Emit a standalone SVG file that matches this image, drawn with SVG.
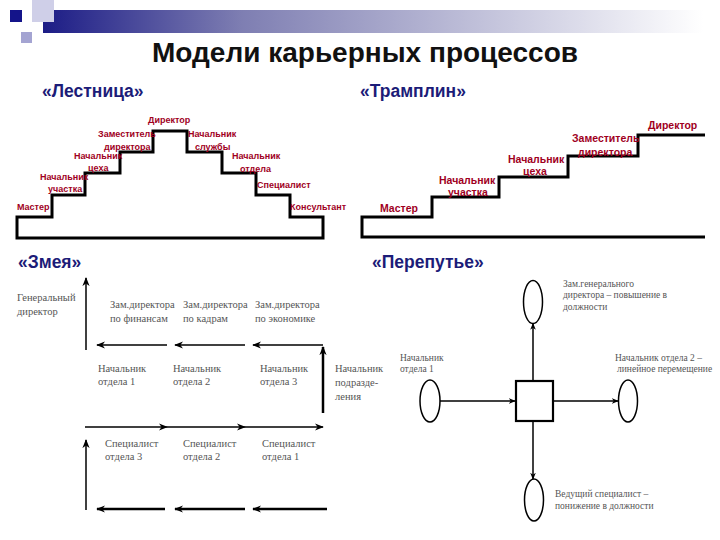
<svg xmlns="http://www.w3.org/2000/svg" width="720" height="540" viewBox="0 0 720 540">
<defs>
<linearGradient id="band" x1="0" y1="0" x2="1" y2="0">
<stop offset="0" stop-color="#1c1c86"/>
<stop offset="0.3" stop-color="#7e7eb2"/>
<stop offset="1" stop-color="#ffffff"/>
</linearGradient>
<marker id="ah" viewBox="0 0 10 10" refX="9" refY="5" markerWidth="9" markerHeight="9" orient="auto" markerUnits="userSpaceOnUse">
<path d="M0,1 L10,5 L0,9 L3,5 z" fill="#000"/>
</marker>
<marker id="ahs" viewBox="0 0 10 10" refX="9" refY="5" markerWidth="7" markerHeight="7" orient="auto" markerUnits="userSpaceOnUse">
<path d="M0,1 L10,5 L0,9 L3,5 z" fill="#000"/>
</marker>
<style>
.title{font-family:"Liberation Sans",Arial,sans-serif;font-weight:bold;font-size:28px;fill:#111;text-anchor:middle}
.sub{font-family:"Liberation Sans",Arial,sans-serif;font-weight:bold;font-size:17.5px;fill:#1c1c78}
.red{font-family:"Liberation Sans",Arial,sans-serif;font-weight:bold;font-size:9px;fill:#a0001e}
.red2{font-family:"Liberation Sans",Arial,sans-serif;font-weight:bold;font-size:10.5px;fill:#a0001e}
.gr{font-family:"Liberation Serif","Times New Roman",serif;font-size:10.5px;fill:#555}
.gr2{font-family:"Liberation Serif","Times New Roman",serif;font-size:9.5px;fill:#555}
.step{fill:none;stroke:#000;stroke-width:3}
.ln{fill:none;stroke:#000;stroke-width:1.5}
.lnb{fill:none;stroke:#000;stroke-width:2.5}
.el{fill:#fff;stroke:#000;stroke-width:1.5}
</style>
</defs>
<rect width="720" height="540" fill="#fff"/>
<g id="decor">
<rect x="43" y="10" width="660" height="23" fill="url(#band)"/>
<rect x="32" y="0" width="22" height="22" fill="#cfcfe8"/>
<rect x="10" y="10" width="12" height="12" fill="#14148a"/>
<rect x="21" y="32" width="11" height="11" fill="#a4a4d2"/>
</g>
<text class="title" x="365" y="62">Модели карьерных процессов</text>
<text class="sub" x="42" y="97">«Лестница»</text>
<text class="sub" x="360" y="97">«Трамплин»</text>
<text class="sub" x="18" y="268">«Змея»</text>
<text class="sub" x="372" y="268">«Перепутье»</text>

<g id="ladder">
<path class="step" d="M17,238 L17,217 L52,217 L52,195 L85,195 L85,173 L120,173 L120,152 L153,152 L153,131 L187,131 L187,152 L222,152 L222,173 L256,173 L256,195 L290,195 L290,217 L323,217 L323,238 Z"/>
<g id="l-master"><text class="red" x="17" y="210">Мастер</text></g>
<g id="l-uch"><text class="red" x="40" y="180">Начальник</text><text class="red" x="48" y="192">участка</text></g>
<g id="l-ceh"><text class="red" x="74" y="159">Начальник</text><text class="red" x="88" y="171">цеха</text></g>
<g id="l-zam"><text class="red" x="98" y="137">Заместитель</text><text class="red" x="104" y="150">директора</text></g>
<g id="l-dir"><text class="red" x="148" y="123">Директор</text></g>
<g id="l-sl"><text class="red" x="188" y="137">Начальник</text><text class="red" x="195" y="150">службы</text></g>
<g id="l-otd"><text class="red" x="232" y="159">Начальник</text><text class="red" x="240" y="172">отдела</text></g>
<g id="l-spec"><text class="red" x="257" y="188">Специалист</text></g>
<g id="l-kons"><text class="red" x="290" y="210">Консультант</text></g>
</g>

<g id="springboard">
<path class="step" d="M705,237 L362,237 L362,217 L432,217 L432,197 L499,197 L499,177 L568,177 L568,156 L638,156 L638,135 L705,135"/>
<g id="s-master"><text class="red2" x="380" y="212">Мастер</text></g>
<g id="s-uch"><text class="red2" x="439" y="184">Начальник</text><text class="red2" x="448" y="196">участка</text></g>
<g id="s-ceh"><text class="red2" x="508" y="163">Начальник</text><text class="red2" x="523" y="175">цеха</text></g>
<g id="s-zam"><text class="red2" x="572" y="142">Заместитель</text><text class="red2" x="578" y="156">директора</text></g>
<g id="s-dir"><text class="red2" x="648" y="129">Директор</text></g>
</g>

<g id="snake-nodes">
<g id="gd"><text class="gr" x="17" y="301">Генеральный</text><text class="gr" x="17" y="315">директор</text></g>
<g id="zf"><text class="gr" x="110" y="308">Зам.директора</text><text class="gr" x="110" y="322">по финансам</text></g>
<g id="zk"><text class="gr" x="183" y="308">Зам.директора</text><text class="gr" x="183" y="322">по кадрам</text></g>
<g id="ze"><text class="gr" x="255" y="308">Зам.директора</text><text class="gr" x="255" y="322">по экономике</text></g>
<g id="n1"><text class="gr" x="98" y="372">Начальник</text><text class="gr" x="98" y="385">отдела 1</text></g>
<g id="n2"><text class="gr" x="173" y="372">Начальник</text><text class="gr" x="173" y="385">отдела 2</text></g>
<g id="n3"><text class="gr" x="260" y="372">Начальник</text><text class="gr" x="260" y="385">отдела 3</text></g>
<g id="np"><text class="gr" x="335" y="372">Начальник</text><text class="gr" x="335" y="386">подразде-</text><text class="gr" x="335" y="400">ления</text></g>
<g id="s3"><text class="gr" x="105" y="447">Специалист</text><text class="gr" x="105" y="460">отдела 3</text></g>
<g id="s2"><text class="gr" x="183" y="447">Специалист</text><text class="gr" x="183" y="460">отдела 2</text></g>
<g id="s1"><text class="gr" x="262" y="447">Специалист</text><text class="gr" x="262" y="460">отдела 1</text></g>
</g>

<g id="cross-nodes">
<g id="c-top"><ellipse class="el" cx="533" cy="302" rx="9.5" ry="21.5"/>
<text class="gr2" x="563" y="287">Зам.генерального</text><text class="gr2" x="563" y="298">директора – повышение в</text><text class="gr2" x="563" y="310">должности</text></g>
<g id="c-left"><ellipse class="el" cx="430" cy="401" rx="10" ry="21"/>
<text class="gr2" x="400" y="361">Начальник</text><text class="gr2" x="400" y="372">отдела 1</text></g>
<g id="c-right"><ellipse class="el" cx="628" cy="401" rx="9.5" ry="21"/>
<text class="gr2" x="615" y="361">Начальник отдела 2 –</text><text class="gr2" x="617" y="372">линейное перемещение</text></g>
<g id="c-bottom"><ellipse class="el" cx="534" cy="500" rx="9.5" ry="21"/>
<text class="gr2" x="555" y="497">Ведущий специалист –</text><text class="gr2" x="555" y="509">понижение в должности</text></g>
<g id="c-box"><rect x="516" y="381" width="37" height="40" fill="#fff" stroke="#000" stroke-width="2.2"/></g>
</g>

<g id="connectors">
<path class="ln" d="M86,350 L86,278" marker-end="url(#ah)"/>
<path class="ln" d="M167,345 L97,345" marker-end="url(#ah)"/>
<path class="ln" d="M245,345 L175,345" marker-end="url(#ah)"/>
<path class="ln" d="M323,345 L253,345" marker-end="url(#ah)"/>
<path class="lnb" d="M323,413 L323,347" marker-end="url(#ah)"/>
<path class="ln" d="M85,427 L167,427" marker-end="url(#ah)"/>
<path class="ln" d="M167,427 L245,427" marker-end="url(#ah)"/>
<path class="ln" d="M245,427 L323,427" marker-end="url(#ah)"/>
<path class="ln" d="M86,510 L86,440" marker-end="url(#ah)"/>
<path class="lnb" d="M165,509 L97,509" marker-end="url(#ah)"/>
<path class="lnb" d="M245,509 L175,509" marker-end="url(#ah)"/>
<path class="lnb" d="M327,509 L253,509" marker-end="url(#ah)"/>
<path class="ln" d="M533,380 L533,323.5" marker-end="url(#ahs)"/>
<path class="ln" d="M440,401 L515,401" marker-end="url(#ahs)"/>
<path class="ln" d="M554,401 L618,401" marker-end="url(#ahs)"/>
<path class="ln" d="M533,422 L533,479" marker-end="url(#ahs)"/>
</g>
</svg>
